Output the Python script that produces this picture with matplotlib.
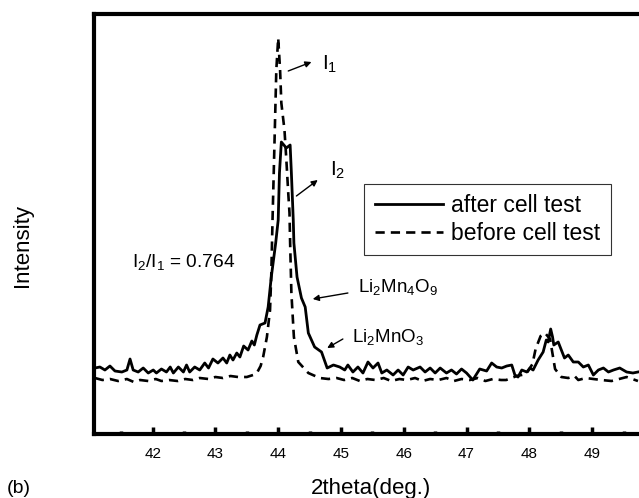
import matplotlib
matplotlib.use("Agg")
import matplotlib.pyplot as plt
from matplotlib.ticker import MultipleLocator

plt.rcParams["font.family"] = ["Liberation Sans", "DejaVu Sans"]
plt.rcParams["mathtext.fontset"] = "custom"
plt.rcParams["mathtext.rm"] = "Liberation Sans"
plt.rcParams["mathtext.it"] = "Liberation Sans:italic"

# XRD pattern after cell test (2theta in deg., intensity in a.u.)
after_2theta = [
    41.08, 41.16, 41.24, 41.32, 41.40, 41.51, 41.59, 41.64, 41.69, 41.77,
    41.85, 41.93, 42.01, 42.06, 42.14, 42.22, 42.28, 42.33, 42.41, 42.49,
    42.54, 42.59, 42.67, 42.75, 42.83, 42.89, 42.96, 43.04, 43.12, 43.18,
    43.23, 43.28, 43.34, 43.39, 43.45, 43.52, 43.58, 43.62, 43.66, 43.71,
    43.79, 43.84, 43.89, 43.96, 44.00, 44.02, 44.05, 44.13, 44.19, 44.21,
    44.24, 44.25, 44.30, 44.37, 44.43, 44.48, 44.58, 44.69, 44.78, 44.88,
    44.98, 45.06, 45.11, 45.19, 45.27, 45.35, 45.43, 45.51, 45.59, 45.65,
    45.73, 45.83, 45.91, 45.99, 46.07, 46.15, 46.26, 46.34, 46.42, 46.50,
    46.58, 46.68, 46.76, 46.84, 46.92, 47.00, 47.10, 47.21, 47.32, 47.40,
    47.48, 47.56, 47.64, 47.72, 47.77, 47.82, 47.88, 47.96, 48.01, 48.06,
    48.14, 48.22, 48.27, 48.30, 48.34, 48.37, 48.39, 48.46, 48.51, 48.56,
    48.62, 48.70, 48.78, 48.86, 48.94, 49.02, 49.10, 49.18, 49.26, 49.34,
    49.44, 49.55, 49.65, 49.73,
]
after_intensity = [
    66, 67, 64, 68, 63, 62, 64, 75, 64, 62,
    66, 61, 64, 61, 65, 62, 67, 61, 67, 62,
    69, 62, 67, 64, 71, 66, 75, 71, 76, 71,
    79, 74, 81, 77, 88, 84, 93, 89, 99, 109,
    111, 127, 157, 191, 214, 261, 292, 286, 289, 261,
    214, 191, 157, 136, 127, 101, 87, 82, 66, 69,
    67, 64, 69, 62, 67, 61, 72, 66, 71, 61,
    64, 59, 64, 59, 67, 64, 67, 62, 66, 61,
    66, 61, 64, 60, 65, 61, 54, 65, 63, 71,
    67, 66, 68, 69, 59, 57, 64, 62, 66, 64,
    74, 82, 94, 92, 105, 97, 89, 92, 84, 76,
    79, 72, 72, 67, 69, 59, 64, 66, 62, 64,
    66, 62, 61, 62,
]

# XRD pattern before cell test
before_2theta = [
    41.08, 41.20, 41.32, 41.45, 41.59, 41.70, 41.80, 41.93, 42.05, 42.14,
    42.26, 42.40, 42.52, 42.64, 42.75, 42.89, 43.00, 43.12, 43.24, 43.36,
    43.50, 43.60, 43.66, 43.72, 43.76, 43.82, 43.87, 43.89, 43.91, 43.93,
    43.95, 43.97, 44.00, 44.03, 44.05, 44.10, 44.13, 44.16, 44.18, 44.19,
    44.21, 44.25, 44.32, 44.48, 44.66, 44.80, 44.93, 45.05, 45.18, 45.30,
    45.42, 45.55, 45.68, 45.80, 45.93, 46.05, 46.18, 46.30, 46.42, 46.55,
    46.68, 46.80, 46.92, 47.05, 47.18, 47.30, 47.42, 47.55, 47.63, 47.80,
    47.95, 48.05, 48.10, 48.18, 48.25, 48.33, 48.37, 48.41, 48.51, 48.62,
    48.72, 48.78, 48.90, 49.02, 49.15, 49.31, 49.43, 49.55, 49.73,
]
before_intensity = [
    56, 54, 55, 53, 55, 52, 54, 53, 55, 53,
    54, 53, 55, 54, 56, 55, 57, 56, 58, 57,
    57, 59, 61, 68, 77, 97, 124, 160, 215, 264,
    314, 364, 396, 364, 331, 304, 274, 241, 221, 191,
    141, 97, 72, 61, 56, 55, 56, 54, 56, 53,
    55, 54, 56, 53, 55, 54, 56, 53, 55, 54,
    56, 53, 55, 54, 56, 53, 55, 54, 54, 58,
    60, 70, 85, 98, 101, 95, 80, 65, 57, 56,
    58, 54, 56, 55, 54, 53, 55, 57, 53,
]

x_ticks = [42, 43, 44, 45, 46, 47, 48, 49]

fig = plt.figure(figsize=(6.39, 4.98), dpi=100)
# right spine sits beyond the figure edge, so the axes run off the right side
ax = fig.add_axes([0.147, 0.1285, 0.927, 0.8434])

ax.plot(after_2theta, after_intensity, color="black", lw=2.0,
        label="after cell test")
ax.plot(before_2theta, before_intensity, color="black", lw=1.9,
        linestyle=(0, (3.5, 2.3)), label="before cell test")

ax.set_xlim(41.065, 50.5)
ax.set_ylim(0, 420)

for side in ["left", "bottom", "top"]:
    ax.spines[side].set_linewidth(3)
ax.spines["right"].set_visible(False)

ax.set_xticks(x_ticks)
ax.xaxis.set_minor_locator(MultipleLocator(0.5))
ax.tick_params(axis="x", which="major", direction="in", length=5, width=2.5,
               labelsize=11, pad=9, top=False)
ax.tick_params(axis="x", which="minor", direction="in", length=2.5, width=2.5,
               top=False)
ax.set_yticks([])

fig.text(0.581, 0.02, "2theta(deg.)", fontsize=16, ha="center", va="center")
fig.text(0.03, 0.02, "(b)", fontsize=14, ha="center", va="center")
fig.text(0.035, 0.508, "Intensity", fontsize=16, rotation=90,
         ha="center", va="center")

leg = ax.legend(loc="upper left", bbox_to_anchor=(0.570, 0.6305),
                bbox_transform=fig.transFigure, fontsize=16.5, frameon=True,
                fancybox=False, edgecolor="black", borderaxespad=0,
                handlelength=3.0, handletextpad=0.35, borderpad=0.45,
                labelspacing=0.2)
leg.get_frame().set_linewidth(0.8)

arrow = dict(arrowstyle="-|>", color="black", lw=1.0,
             mutation_scale=9, shrinkA=0, shrinkB=0)

ax.annotate("", xy=(44.53, 372), xytext=(44.16, 363), arrowprops=arrow)
ax.text(44.70, 370, r"$\mathregular{I_1}$", fontsize=15, va="center")

ax.annotate("", xy=(44.63, 254), xytext=(44.29, 238), arrowprops=arrow)
ax.text(44.83, 264, r"$\mathregular{I_2}$", fontsize=15, va="center")

ax.text(41.67, 172, r"$\mathregular{I_2/I_1}$ = 0.764", fontsize=13.8,
        va="center")

ax.annotate("", xy=(44.55, 135), xytext=(45.11, 141), arrowprops=arrow)
ax.text(45.27, 147, r"$\mathregular{Li_2Mn_4O_9}$", fontsize=13.5, va="center")

ax.annotate("", xy=(44.78, 86), xytext=(45.03, 95), arrowprops=arrow)
ax.text(45.17, 97, r"$\mathregular{Li_2MnO_3}$", fontsize=13.5, va="center")

fig.savefig("out.png", dpi=100)
